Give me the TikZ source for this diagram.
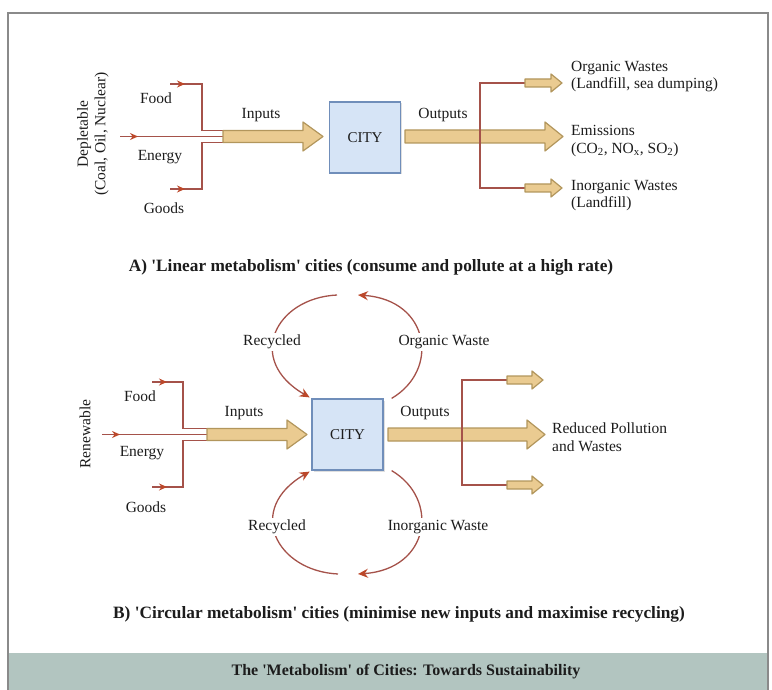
\documentclass[tikz,border=0pt]{standalone}
\usepackage{fontspec}
\setmainfont{Liberation Serif}
\usepackage{tikz}
\usetikzlibrary{arrows.meta, calc, decorations.markings, shadows}

\definecolor{flowred}{RGB}{165,82,74}
\definecolor{tipred}{RGB}{188,72,42}
\definecolor{fattan}{RGB}{234,203,145}
\definecolor{fatedge}{RGB}{178,150,92}
\definecolor{cityfill}{RGB}{214,228,246}
\definecolor{cityedge}{RGB}{112,142,186}
\definecolor{bandgreen}{RGB}{178,197,192}
\definecolor{framegray}{RGB}{138,138,138}
\definecolor{inkgray}{RGB}{28,28,28}

\tikzstyle{city} = [rectangle, minimum size=71pt, draw=cityedge, line width=1.2pt, fill=cityfill, text=inkgray, font=\fontsize{15}{17}\selectfont, drop shadow={opacity=0.25, shadow xshift=1.5pt, shadow yshift=-1.5pt}]
\tikzstyle{lbl} = [inner sep=1pt, text=inkgray, font=\fontsize{15.5}{17.5}\selectfont]
\tikzstyle{gaplbl} = [lbl, fill=white, inner sep=2pt]
\tikzstyle{capt} = [inner sep=1pt, text=inkgray, font=\bfseries\fontsize{17.3}{19}\selectfont]
\tikzstyle{flow} = [draw=flowred, line width=1.3pt]
\tikzstyle{recyc} = [draw=flowred, line width=1.3pt, -{Stealth[length=10pt,width=9pt,color=tipred]}]
\tikzstyle{fat} = [draw=fatedge, line width=1.2pt, fill=fattan, line join=round]
\tikzset{midtip/.style={postaction={decorate, decoration={markings, mark=at position #1 with {\arrow{Stealth[length=8pt,width=7pt,color=tipred]}}}}},
  pics/bigarrow/.style n args={4}{code={
    \draw [fat] (0,-#2) -- ({#1-#4},-#2) -- ({#1-#4},-#3) -- (#1,0) -- ({#1-#4},#3) -- ({#1-#4},#2) -- (0,#2) -- cycle;}}}

\begin{document}
\begin{tikzpicture}[x=1pt, y=-1pt]
  \useasboundingbox (0,0) rectangle (772,690);

  % frame and title band
  \fill [bandgreen] (9,653) rectangle (767,690);
  \draw [framegray, line width=2pt] (8,695) -- (8,13) -- (768,13) -- (768,695);
  \node (title) [capt, font=\bfseries\fontsize{16}{18}\selectfont] at (406,672) {The \textquotesingle Metabolism\textquotesingle{} of Cities: Towards Sustainability};

  % A) linear
  \node (acity) [city] at (365,137.5) {CITY};
  \coordinate (ain) at (223,136.5);
  \coordinate (aout) at (405,136.5);
  \coordinate (afoodsrc) at (170,84);
  \coordinate (aenergysrc) at (120,136.5);
  \coordinate (agoodssrc) at (170,189);
  \coordinate (ajtop) at (202,130.5);
  \coordinate (ajbot) at (202,142.5);
  \coordinate (abranch) at (480,136.5);
  \coordinate (asmalltop) at (525,83);
  \coordinate (asmallbot) at (525,188);

  \draw [flow, midtip=15pt] (afoodsrc) -| (ajtop) -- (ajtop -| ain);
  \draw [flow, midtip=18pt] (aenergysrc) -- (ain);
  \draw [flow, midtip=15pt] (agoodssrc) -| (ajbot) -- (ajbot -| ain);
  \pic at (ain) {bigarrow={100}{6}{14.5}{20}};
  \pic at (aout) {bigarrow={158}{6.5}{14.5}{18}};
  \draw [flow] (asmalltop) -| (abranch) |- (asmallbot);
  \pic at (asmalltop) {bigarrow={37}{4}{9}{11}};
  \pic at (asmallbot) {bigarrow={37}{4}{9}{11}};

  \node (asource) [lbl, rotate=90, align=center] at (93,134) {Depletable\\(Coal, Oil, Nuclear)};
  \node (afood) [lbl] at (156,98) {Food};
  \node (aenergy) [lbl] at (160,157) {Energy};
  \node (agoods) [lbl] at (164,208) {Goods};
  \node (ainlbl) [lbl] at (261,115) {Inputs};
  \node (aoutlbl) [lbl] at (443,115) {Outputs};
  \node (aorganic) [lbl, anchor=west, align=left] at (570,76.5) {Organic Wastes\\(Landfill, sea dumping)};
  \node (aemis) [lbl, anchor=west, align=left] at (570,141) {Emissions\\(CO\textsubscript{2}, NO\textsubscript{x}, SO\textsubscript{2})};
  \node (ainorg) [lbl, anchor=west, align=left] at (570,195.5) {Inorganic Wastes\\(Landfill)};
  \node (acap) [capt] at (371,267) {A) \textquotesingle Linear metabolism\textquotesingle{} cities (consume and pollute at a high rate)};

  % B) circular
  \node (bcity) [city] at (347.5,434.5) {CITY};
  \coordinate (bin) at (207,434.5);
  \coordinate (bout) at (388,434.5);
  \coordinate (bfoodsrc) at (152,382);
  \coordinate (benergysrc) at (102,434.5);
  \coordinate (bgoodssrc) at (152,487);
  \coordinate (bjtop) at (183,428.5);
  \coordinate (bjbot) at (183,440.5);
  \coordinate (bbranch) at (462,434.5);
  \coordinate (bsmalltop) at (507,380);
  \coordinate (bsmallbot) at (507,485);
  \coordinate (btopl) at (337,295);
  \coordinate (btopr) at (358,295);
  \coordinate (bbotl) at (338,574);
  \coordinate (bbotr) at (358,574);

  \draw [flow, midtip=15pt] (bfoodsrc) -| (bjtop) -- (bjtop -| bin);
  \draw [flow, midtip=18pt] (benergysrc) -- (bin);
  \draw [flow, midtip=15pt] (bgoodssrc) -| (bjbot) -- (bjbot -| bin);
  \pic at (bin) {bigarrow={100}{6}{14.5}{20}};
  \pic at (bout) {bigarrow={157}{6.5}{14.5}{18}};
  \draw [flow] (bsmalltop) -| (bbranch) |- (bsmallbot);
  \pic at (bsmalltop) {bigarrow={36}{4}{9}{11}};
  \pic at (bsmallbot) {bigarrow={36}{4}{9}{11}};

  \draw [recyc, shorten >=2pt] (btopl) .. controls (275,298) and (245,360) .. (bcity.north west);
  \draw [recyc] ([xshift=8pt]bcity.north east) .. controls (440,370) and (430,300) .. (btopr);
  \draw [recyc, shorten >=2pt] (bbotl) .. controls (276,571) and (245,509) .. (bcity.south west);
  \draw [recyc] ([xshift=8pt]bcity.south east) .. controls (440,499) and (430,569) .. (bbotr);

  \node (bsource) [lbl, rotate=90] at (85,434) {Renewable};
  \node (bfood) [lbl] at (140,396) {Food};
  \node (benergy) [lbl] at (142,453) {Energy};
  \node (bgoods) [lbl] at (146,507) {Goods};
  \node (binlbl) [lbl] at (244,413) {Inputs};
  \node (boutlbl) [lbl] at (425,413) {Outputs};
  \node (brecup) [gaplbl] at (272,342) {Recycled};
  \node (borganic) [gaplbl] at (444,342) {Organic Waste};
  \node (brecdown) [gaplbl] at (277,527) {Recycled};
  \node (binorg) [gaplbl] at (438,527) {Inorganic Waste};
  \node (breduced) [lbl, anchor=west, align=left] at (551,437) {Reduced Pollution\\and Wastes};
  \node (bcap) [capt] at (399,614) {B) \textquotesingle Circular metabolism\textquotesingle{} cities (minimise new inputs and maximise recycling)};
\end{tikzpicture}
\end{document}
